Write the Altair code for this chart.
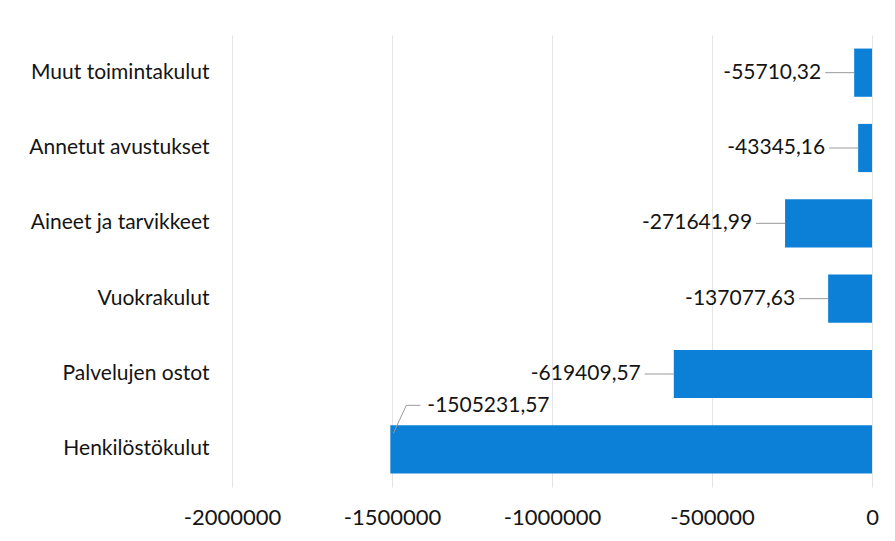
import altair as alt
import pandas as pd

categories = ["Muut toimintakulut", "Annetut avustukset", "Aineet ja tarvikkeet",
              "Vuokrakulut", "Palvelujen ostot", "Henkilöstökulut"]
values = [-55710.32, -43345.16, -271641.99, -137077.63, -619409.57, -1505231.57]
x_ticks = [-2000000, -1500000, -1000000, -500000, 0]

df = pd.DataFrame({"cat": categories, "value": values})
df["label"] = [f"{v:.2f}".replace(".", ",") for v in values]

FONT = "Lato"
BLUE = "#0c80d6"
TXT = "#141414"

y = alt.Y("cat:N", sort=categories, title=None,
          scale=alt.Scale(paddingInner=0.36, paddingOuter=0.18),
          axis=alt.Axis(labelFontSize=21, labelColor=TXT, labelPadding=23, ticks=False,
                        domain=False, labelFont=FONT, grid=False, labelLimit=400))
x = alt.X("value:Q", title=None,
          scale=alt.Scale(domain=[-2000000, 0], nice=False),
          axis=alt.Axis(values=x_ticks, labelExpr="'' + datum.value", labelFontSize=22,
                        labelColor=TXT, labelFont=FONT, labelPadding=20, ticks=False,
                        labelFlush=False, labelOverlap=False,
                        domain=False, grid=True, gridColor="#e4e4e4", gridWidth=1))

base = alt.Chart(df)
bars = base.mark_bar(color=BLUE).encode(x=x, y=y)

small = base.transform_filter("datum.cat != 'Henkilöstökulut'")
labels = small.mark_text(align="right", baseline="middle", dx=-33, fontSize=21,
                         font=FONT, color=TXT).encode(x="value:Q", y=alt.Y("cat:N", sort=categories), text="label:N")
leaders = small.mark_rule(color="#9a9a9a", strokeWidth=1, xOffset=-29, x2Offset=0).encode(
    x="value:Q", x2="value:Q", y=alt.Y("cat:N", sort=categories))

big = base.transform_filter("datum.cat == 'Henkilöstökulut'")
big_label = big.mark_text(align="left", baseline="middle", dx=37, dy=-43, fontSize=21,
                          font=FONT, color=TXT).encode(x="value:Q", y=alt.Y("cat:N", sort=categories), text="label:N")
big_lead1 = big.mark_rule(color="#9a9a9a", strokeWidth=1, xOffset=3, x2Offset=16,
                          yOffset=-16, y2Offset=-44).encode(
    x="value:Q", x2="value:Q", y=alt.Y("cat:N", sort=categories), y2="cat:N")
big_lead2 = big.mark_rule(color="#9a9a9a", strokeWidth=1, xOffset=16, x2Offset=30,
                          yOffset=-44).encode(
    x="value:Q", x2="value:Q", y=alt.Y("cat:N", sort=categories))

chart = alt.layer(bars, leaders, labels, big_lead1, big_lead2, big_label).properties(
    width=640, height=452, padding={"left": 20, "top": 27, "right": 5, "bottom": 5}
).configure(background="white").configure_view(stroke=None)

chart.save("out.html", embed_options={"renderer": "svg", "actions": False})
